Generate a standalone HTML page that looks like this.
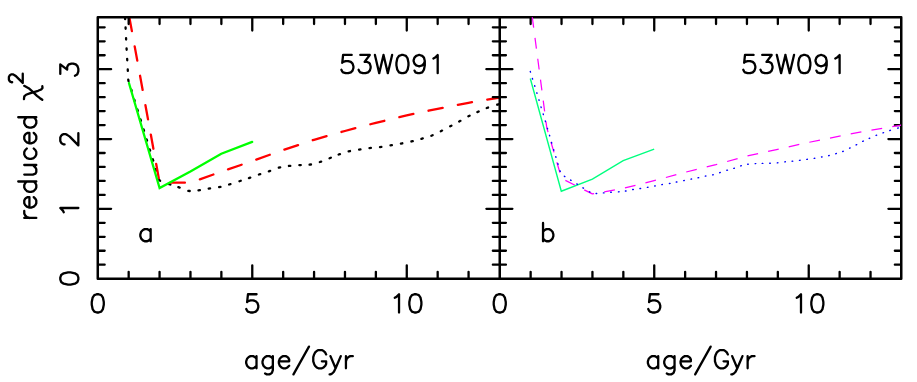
<!DOCTYPE html>
<html><head><meta charset="utf-8"><title>chart</title><style>html,body{margin:0;padding:0;background:#fff;font-family:"Liberation Sans",sans-serif;}svg{display:block}</style></head><body>
<svg width="917" height="382" viewBox="0 0 917 382"><defs><clipPath id="ca"><rect x="97.77" y="17.20" width="401.97" height="261.48"/></clipPath><clipPath id="cb"><rect x="499.74" y="17.20" width="401.51" height="261.48"/></clipPath></defs>
<g fill="none" stroke="#000" stroke-linecap="round" stroke-linejoin="round">
<g clip-path="url(#ca)">
<path d="M125.06,17.70 L125.14,19.10 M125.57,27.40 L125.63,28.80 M126.07,38.10 L126.13,39.50 M126.56,48.40 L126.64,49.80 M127.16,58.90 L127.24,60.30 M127.76,69.50 L127.84,70.90 M128.27,79.71 L128.53,81.09 M131.29,89.63 L131.71,90.97 M134.29,99.63 L134.71,100.97 M137.39,109.53 L137.81,110.87 M140.49,119.43 L140.91,120.77 M143.59,129.43 L144.01,130.77 M146.59,139.33 L147.01,140.67 M149.69,149.33 L150.11,150.67 M152.79,159.23 L153.21,160.57 M155.78,169.13 L156.22,170.47 M159.12,179.79 L160.08,180.81 M169.04,184.06 L170.36,184.54 M178.34,187.17 L179.66,187.63 M188.31,190.80 L189.69,191.00 M198.50,190.28 L199.90,190.12 M208.71,188.61 L210.09,188.39 M219.11,187.14 L220.49,186.86 M229.13,184.50 L230.47,184.10 M239.43,181.22 L240.77,180.78 M248.94,178.13 L250.26,177.67 M258.94,174.53 L260.26,174.07 M268.84,171.33 L270.16,170.87 M278.82,167.68 L280.18,167.32 M288.90,165.98 L290.30,165.82 M299.40,165.14 L300.80,165.06 M309.61,164.71 L310.99,164.49 M319.84,162.02 L321.16,161.58 M329.55,158.26 L330.85,157.74 M338.64,154.53 L339.96,154.07 M348.62,151.36 L349.98,151.04 M359.11,149.61 L360.49,149.39 M369.50,148.08 L370.90,147.92 M380.01,147.09 L381.39,146.91 M390.51,145.42 L391.89,145.18 M400.91,143.53 L402.29,143.27 M411.42,141.46 L412.78,141.14 M421.43,138.80 L422.77,138.40 M431.35,135.76 L432.65,135.24 M440.78,131.22 L442.02,130.58 M450.18,126.33 L451.42,125.67 M459.19,121.54 L460.41,120.86 M468.38,116.32 L469.62,115.68 M477.36,112.08 L478.64,111.52 M486.74,108.04 L488.06,107.56 M497.23,104.71 L498.57,104.29" stroke="#000" stroke-width="2.30"/>
<polyline points="129.30,17.00 159.60,182.60 190.40,182.70 221.30,171.70 252.20,161.10 283.10,150.00 314.00,139.80 344.90,131.00 375.80,122.80 406.70,115.40 437.60,108.80 468.50,102.80 499.60,97.60" stroke="#f00" stroke-width="2.3" stroke-dasharray="14.4 15.48"/>
<polyline points="128.95,83.00 159.60,188.00 190.40,171.40 221.30,153.70 252.20,141.90" stroke="#0f0" stroke-width="2.3" stroke-linejoin="miter" stroke-linecap="round"/>
</g>
<path d="M97.77,17.20 H901.25 V278.68 H97.77 Z M499.74,17.20 V278.68" stroke-width="2.50" stroke-linejoin="round"/>
<path d="M128.67,17.60 v6.50 M128.67,278.28 v-6.50 M159.57,17.60 v6.50 M159.57,278.28 v-6.50 M190.47,17.60 v6.50 M190.47,278.28 v-6.50 M221.37,17.60 v6.50 M221.37,278.28 v-6.50 M252.27,17.60 v12.95 M252.27,278.28 v-12.95 M283.17,17.60 v6.50 M283.17,278.28 v-6.50 M314.07,17.60 v6.50 M314.07,278.28 v-6.50 M344.97,17.60 v6.50 M344.97,278.28 v-6.50 M375.87,17.60 v6.50 M375.87,278.28 v-6.50 M406.77,17.60 v12.95 M406.77,278.28 v-12.95 M437.67,17.60 v6.50 M437.67,278.28 v-6.50 M468.57,17.60 v6.50 M468.57,278.28 v-6.50 M530.64,17.60 v6.50 M530.64,278.28 v-6.50 M561.54,17.60 v6.50 M561.54,278.28 v-6.50 M592.44,17.60 v6.50 M592.44,278.28 v-6.50 M623.34,17.60 v6.50 M623.34,278.28 v-6.50 M654.24,17.60 v12.95 M654.24,278.28 v-12.95 M685.14,17.60 v6.50 M685.14,278.28 v-6.50 M716.04,17.60 v6.50 M716.04,278.28 v-6.50 M746.94,17.60 v6.50 M746.94,278.28 v-6.50 M777.84,17.60 v6.50 M777.84,278.28 v-6.50 M808.74,17.60 v12.95 M808.74,278.28 v-12.95 M839.64,17.60 v6.50 M839.64,278.28 v-6.50 M870.54,17.60 v6.50 M870.54,278.28 v-6.50 M98.17,264.72 h6.50 M492.84,264.72 h13.10 M900.85,264.72 h-6.00 M98.17,250.75 h6.50 M492.84,250.75 h13.10 M900.85,250.75 h-6.00 M98.17,236.79 h6.50 M492.84,236.79 h13.10 M900.85,236.79 h-6.00 M98.17,222.82 h6.50 M492.84,222.82 h13.10 M900.85,222.82 h-6.00 M98.17,208.86 h12.95 M486.39,208.86 h26.00 M900.85,208.86 h-12.45 M98.17,194.90 h6.50 M492.84,194.90 h13.10 M900.85,194.90 h-6.00 M98.17,180.93 h6.50 M492.84,180.93 h13.10 M900.85,180.93 h-6.00 M98.17,166.97 h6.50 M492.84,166.97 h13.10 M900.85,166.97 h-6.00 M98.17,153.00 h6.50 M492.84,153.00 h13.10 M900.85,153.00 h-6.00 M98.17,139.04 h12.95 M486.39,139.04 h26.00 M900.85,139.04 h-12.45 M98.17,125.08 h6.50 M492.84,125.08 h13.10 M900.85,125.08 h-6.00 M98.17,111.11 h6.50 M492.84,111.11 h13.10 M900.85,111.11 h-6.00 M98.17,97.15 h6.50 M492.84,97.15 h13.10 M900.85,97.15 h-6.00 M98.17,83.18 h6.50 M492.84,83.18 h13.10 M900.85,83.18 h-6.00 M98.17,69.22 h12.95 M486.39,69.22 h26.00 M900.85,69.22 h-12.45 M98.17,55.26 h6.50 M492.84,55.26 h13.10 M900.85,55.26 h-6.00 M98.17,41.29 h6.50 M492.84,41.29 h13.10 M900.85,41.29 h-6.00 M98.17,27.33 h6.50 M492.84,27.33 h13.10 M900.85,27.33 h-6.00" stroke-width="2.3"/>
<g clip-path="url(#cb)">
<polyline points="532.25,16.90 546.80,127.90 561.60,178.50 592.30,193.90 623.20,188.40 654.10,180.70 685.00,172.30 715.90,164.60 746.80,156.10 777.70,149.30 808.60,142.40 839.50,136.10 870.40,130.20 901.20,125.20" stroke="#f0f" stroke-width="1.25" stroke-linecap="butt" stroke-dasharray="10.85 10.26"/>
<polyline points="530.30,78.50 561.30,191.20 592.40,179.20 623.20,160.70 654.20,149.20" stroke="#00ff7f" stroke-width="1.4" stroke-linejoin="miter" stroke-linecap="butt"/>
<path d="M530.31,71.51 L530.49,72.09 M532.41,78.51 L532.59,79.09 M534.71,85.71 L534.89,86.29 M536.81,92.81 L536.99,93.39 M538.91,99.81 L539.09,100.39 M541.01,106.91 L541.19,107.49 M543.21,114.01 L543.39,114.59 M545.32,121.01 L545.48,121.59 M547.42,128.31 L547.58,128.89 M549.52,135.31 L549.68,135.89 M551.57,142.51 L551.73,143.09 M553.71,149.61 L553.89,150.19 M555.81,156.71 L555.99,157.29 M557.91,163.71 L558.09,164.29 M559.96,170.84 L560.24,171.36 M564.37,176.21 L564.83,176.59 M570.54,180.04 L571.06,180.36 M576.85,183.94 L577.35,184.26 M582.94,187.84 L583.46,188.16 M589.42,191.78 L589.98,192.02 M596.10,193.48 L596.70,193.52 M603.40,192.92 L604.00,192.88 M610.70,192.32 L611.30,192.28 M618.45,191.88 L619.05,191.82 M625.45,191.05 L626.05,190.95 M632.70,189.55 L633.30,189.45 M640.00,188.54 L640.60,188.46 M647.40,187.35 L648.00,187.25 M654.71,185.96 L655.29,185.84 M661.80,184.65 L662.40,184.55 M669.40,183.45 L670.00,183.35 M676.31,182.06 L676.89,181.94 M683.71,180.66 L684.29,180.54 M691.01,179.16 L691.59,179.04 M698.11,177.76 L698.69,177.64 M705.31,176.16 L705.89,176.04 M712.61,174.87 L713.19,174.73 M719.71,172.69 L720.29,172.51 M726.91,170.29 L727.49,170.11 M733.81,168.39 L734.39,168.21 M740.71,165.93 L741.29,165.77 M747.70,164.25 L748.30,164.15 M755.20,163.62 L755.80,163.58 M762.20,163.41 L762.80,163.39 M769.70,163.21 L770.30,163.19 M777.30,162.83 L777.90,162.77 M784.80,161.83 L785.40,161.77 M792.10,161.23 L792.70,161.17 M799.50,160.34 L800.10,160.26 M806.80,159.34 L807.40,159.26 M814.20,158.35 L814.80,158.25 M821.51,156.96 L822.09,156.84 M828.61,155.67 L829.19,155.53 M835.81,153.69 L836.39,153.51 M842.72,151.51 L843.28,151.29 M849.63,148.23 L850.17,147.97 M856.13,144.94 L856.67,144.66 M862.73,141.33 L863.27,141.07 M869.23,138.42 L869.77,138.18 M876.12,135.41 L876.68,135.19 M883.02,132.90 L883.58,132.70 M889.81,130.49 L890.39,130.31 M897.71,128.18 L898.29,128.02" stroke="#00f" stroke-width="1.40"/>
</g>
<path d="M96.91,294.27 L94.33,295.14 L92.61,297.74 L91.75,302.08 L91.75,304.69 L92.61,309.03 L94.33,311.63 L96.91,312.50 L98.63,312.50 L101.21,311.63 L102.93,309.03 L103.79,304.69 L103.79,302.08 L102.93,297.74 L101.21,295.14 L98.63,294.27 L96.91,294.27" stroke-width="2.30"/>
<path d="M256.57,294.27 L247.97,294.27 L247.11,302.08 L247.97,301.22 L250.55,300.35 L253.13,300.35 L255.71,301.22 L257.43,302.95 L258.29,305.56 L258.29,307.29 L257.43,309.90 L255.71,311.63 L253.13,312.50 L250.55,312.50 L247.97,311.63 L247.11,310.76 L246.25,309.03" stroke-width="2.30"/>
<path d="M394.73,297.74 L396.45,296.88 L399.03,294.27 L399.03,312.50 M414.51,294.27 L411.93,295.14 L410.21,297.74 L409.35,302.08 L409.35,304.69 L410.21,309.03 L411.93,311.63 L414.51,312.50 L416.23,312.50 L418.81,311.63 L420.53,309.03 L421.39,304.69 L421.39,302.08 L420.53,297.74 L418.81,295.14 L416.23,294.27 L414.51,294.27" stroke-width="2.30"/>
<path d="M498.88,294.27 L496.30,295.14 L494.58,297.74 L493.72,302.08 L493.72,304.69 L494.58,309.03 L496.30,311.63 L498.88,312.50 L500.60,312.50 L503.18,311.63 L504.90,309.03 L505.76,304.69 L505.76,302.08 L504.90,297.74 L503.18,295.14 L500.60,294.27 L498.88,294.27" stroke-width="2.30"/>
<path d="M658.54,294.27 L649.94,294.27 L649.08,302.08 L649.94,301.22 L652.52,300.35 L655.10,300.35 L657.68,301.22 L659.40,302.95 L660.26,305.56 L660.26,307.29 L659.40,309.90 L657.68,311.63 L655.10,312.50 L652.52,312.50 L649.94,311.63 L649.08,310.76 L648.22,309.03" stroke-width="2.30"/>
<path d="M796.70,297.74 L798.42,296.88 L801.00,294.27 L801.00,312.50 M816.48,294.27 L813.90,295.14 L812.18,297.74 L811.32,302.08 L811.32,304.69 L812.18,309.03 L813.90,311.63 L816.48,312.50 L818.20,312.50 L820.78,311.63 L822.50,309.03 L823.36,304.69 L823.36,302.08 L822.50,297.74 L820.78,295.14 L818.20,294.27 L816.48,294.27" stroke-width="2.30"/>
<path d="M256.50,356.15 L256.50,368.30 M256.50,358.75 L254.78,357.02 L253.06,356.15 L250.48,356.15 L248.76,357.02 L247.04,358.75 L246.18,361.36 L246.18,363.09 L247.04,365.70 L248.76,367.43 L250.48,368.30 L253.06,368.30 L254.78,367.43 L256.50,365.70 M272.84,356.15 L272.84,370.04 L271.98,372.64 L271.12,373.51 L269.40,374.38 L266.82,374.38 L265.10,373.51 M272.84,358.75 L271.12,357.02 L269.40,356.15 L266.82,356.15 L265.10,357.02 L263.38,358.75 L262.52,361.36 L262.52,363.09 L263.38,365.70 L265.10,367.43 L266.82,368.30 L269.40,368.30 L271.12,367.43 L272.84,365.70 M278.86,361.36 L289.18,361.36 L289.18,359.62 L288.32,357.88 L287.46,357.02 L285.74,356.15 L283.16,356.15 L281.44,357.02 L279.72,358.75 L278.86,361.36 L278.86,363.09 L279.72,365.70 L281.44,367.43 L283.16,368.30 L285.74,368.30 L287.46,367.43 L289.18,365.70 M308.96,346.60 L293.48,374.38 M326.16,354.41 L325.30,352.68 L323.58,350.94 L321.86,350.07 L318.42,350.07 L316.70,350.94 L314.98,352.68 L314.12,354.41 L313.26,357.02 L313.26,361.36 L314.12,363.96 L314.98,365.70 L316.70,367.43 L318.42,368.30 L321.86,368.30 L323.58,367.43 L325.30,365.70 L326.16,363.96 L326.16,361.36 M321.86,361.36 L326.16,361.36 M330.46,356.15 L335.62,368.30 M340.78,356.15 L335.62,368.30 L333.90,371.77 L332.18,373.51 L330.46,374.38 L329.60,374.38 M345.94,356.15 L345.94,368.30 M345.94,361.36 L346.80,358.75 L348.52,357.02 L350.24,356.15 L352.82,356.15" stroke-width="2.30"/>
<path d="M658.20,356.15 L658.20,368.30 M658.20,358.75 L656.48,357.02 L654.76,356.15 L652.18,356.15 L650.46,357.02 L648.74,358.75 L647.88,361.36 L647.88,363.09 L648.74,365.70 L650.46,367.43 L652.18,368.30 L654.76,368.30 L656.48,367.43 L658.20,365.70 M674.54,356.15 L674.54,370.04 L673.68,372.64 L672.82,373.51 L671.10,374.38 L668.52,374.38 L666.80,373.51 M674.54,358.75 L672.82,357.02 L671.10,356.15 L668.52,356.15 L666.80,357.02 L665.08,358.75 L664.22,361.36 L664.22,363.09 L665.08,365.70 L666.80,367.43 L668.52,368.30 L671.10,368.30 L672.82,367.43 L674.54,365.70 M680.56,361.36 L690.88,361.36 L690.88,359.62 L690.02,357.88 L689.16,357.02 L687.44,356.15 L684.86,356.15 L683.14,357.02 L681.42,358.75 L680.56,361.36 L680.56,363.09 L681.42,365.70 L683.14,367.43 L684.86,368.30 L687.44,368.30 L689.16,367.43 L690.88,365.70 M710.66,346.60 L695.18,374.38 M727.86,354.41 L727.00,352.68 L725.28,350.94 L723.56,350.07 L720.12,350.07 L718.40,350.94 L716.68,352.68 L715.82,354.41 L714.96,357.02 L714.96,361.36 L715.82,363.96 L716.68,365.70 L718.40,367.43 L720.12,368.30 L723.56,368.30 L725.28,367.43 L727.00,365.70 L727.86,363.96 L727.86,361.36 M723.56,361.36 L727.86,361.36 M732.16,356.15 L737.32,368.30 M742.48,356.15 L737.32,368.30 L735.60,371.77 L733.88,373.51 L732.16,374.38 L731.30,374.38 M747.64,356.15 L747.64,368.30 M747.64,361.36 L748.50,358.75 L750.22,357.02 L751.94,356.15 L754.52,356.15" stroke-width="2.30"/>
<path d="M351.70,54.97 L343.10,54.97 L342.24,62.78 L343.10,61.92 L345.68,61.05 L348.26,61.05 L350.84,61.92 L352.56,63.65 L353.42,66.26 L353.42,67.99 L352.56,70.60 L350.84,72.33 L348.26,73.20 L345.68,73.20 L343.10,72.33 L342.24,71.46 L341.38,69.73 M360.30,54.97 L369.76,54.97 L364.60,61.92 L367.18,61.92 L368.90,62.78 L369.76,63.65 L370.62,66.26 L370.62,67.99 L369.76,70.60 L368.04,72.33 L365.46,73.20 L362.88,73.20 L360.30,72.33 L359.44,71.46 L358.58,69.73 M374.92,54.97 L379.22,73.20 M383.52,54.97 L379.22,73.20 M383.52,54.97 L387.82,73.20 M392.12,54.97 L387.82,73.20 M401.58,54.97 L399.00,55.84 L397.28,58.44 L396.42,62.78 L396.42,65.39 L397.28,69.73 L399.00,72.33 L401.58,73.20 L403.30,73.20 L405.88,72.33 L407.60,69.73 L408.46,65.39 L408.46,62.78 L407.60,58.44 L405.88,55.84 L403.30,54.97 L401.58,54.97 M424.80,61.05 L423.94,63.65 L422.22,65.39 L419.64,66.26 L418.78,66.26 L416.20,65.39 L414.48,63.65 L413.62,61.05 L413.62,60.18 L414.48,57.58 L416.20,55.84 L418.78,54.97 L419.64,54.97 L422.22,55.84 L423.94,57.58 L424.80,61.05 L424.80,65.39 L423.94,69.73 L422.22,72.33 L419.64,73.20 L417.92,73.20 L415.34,72.33 L414.48,70.60 M433.40,58.44 L435.12,57.58 L437.70,54.97 L437.70,73.20" stroke-width="2.30"/>
<path d="M753.60,54.97 L745.00,54.97 L744.14,62.78 L745.00,61.92 L747.58,61.05 L750.16,61.05 L752.74,61.92 L754.46,63.65 L755.32,66.26 L755.32,67.99 L754.46,70.60 L752.74,72.33 L750.16,73.20 L747.58,73.20 L745.00,72.33 L744.14,71.46 L743.28,69.73 M762.20,54.97 L771.66,54.97 L766.50,61.92 L769.08,61.92 L770.80,62.78 L771.66,63.65 L772.52,66.26 L772.52,67.99 L771.66,70.60 L769.94,72.33 L767.36,73.20 L764.78,73.20 L762.20,72.33 L761.34,71.46 L760.48,69.73 M776.82,54.97 L781.12,73.20 M785.42,54.97 L781.12,73.20 M785.42,54.97 L789.72,73.20 M794.02,54.97 L789.72,73.20 M803.48,54.97 L800.90,55.84 L799.18,58.44 L798.32,62.78 L798.32,65.39 L799.18,69.73 L800.90,72.33 L803.48,73.20 L805.20,73.20 L807.78,72.33 L809.50,69.73 L810.36,65.39 L810.36,62.78 L809.50,58.44 L807.78,55.84 L805.20,54.97 L803.48,54.97 M826.70,61.05 L825.84,63.65 L824.12,65.39 L821.54,66.26 L820.68,66.26 L818.10,65.39 L816.38,63.65 L815.52,61.05 L815.52,60.18 L816.38,57.58 L818.10,55.84 L820.68,54.97 L821.54,54.97 L824.12,55.84 L825.84,57.58 L826.70,61.05 L826.70,65.39 L825.84,69.73 L824.12,72.33 L821.54,73.20 L819.82,73.20 L817.24,72.33 L816.38,70.60 M835.30,58.44 L837.02,57.58 L839.60,54.97 L839.60,73.20" stroke-width="2.30"/>
<path d="M150.65,229.10 L150.65,241.25 M150.65,231.70 L148.93,229.97 L147.21,229.10 L144.63,229.10 L142.91,229.97 L141.19,231.70 L140.33,234.31 L140.33,236.04 L141.19,238.65 L142.91,240.38 L144.63,241.25 L147.21,241.25 L148.93,240.38 L150.65,238.65" stroke-width="2.30"/>
<path d="M543.04,223.02 L543.04,241.25 M543.04,231.70 L544.76,229.97 L546.48,229.10 L549.06,229.10 L550.78,229.97 L552.50,231.70 L553.36,234.31 L553.36,236.04 L552.50,238.65 L550.78,240.38 L549.06,241.25 L546.48,241.25 L544.76,240.38 L543.04,238.65" stroke-width="2.30"/>
<path d="M60.29,279.35 L61.15,281.95 L63.73,283.69 L68.03,284.56 L70.61,284.56 L74.91,283.69 L77.49,281.95 L78.35,279.35 L78.35,277.61 L77.49,275.01 L74.91,273.27 L70.61,272.40 L68.03,272.40 L63.73,273.27 L61.15,275.01 L60.29,277.61 L60.29,279.35" stroke-width="2.30"/>
<path d="M63.73,212.33 L62.87,210.60 L60.29,207.99 L78.35,207.99" stroke-width="2.30"/>
<path d="M64.59,144.45 L63.73,144.45 L62.01,143.58 L61.15,142.71 L60.29,140.98 L60.29,137.50 L61.15,135.77 L62.01,134.90 L63.73,134.03 L65.45,134.03 L67.17,134.90 L69.75,136.64 L78.35,145.32 L78.35,133.16" stroke-width="2.30"/>
<path d="M60.29,73.96 L60.29,64.41 L67.17,69.62 L67.17,67.02 L68.03,65.28 L68.89,64.41 L71.47,63.54 L73.19,63.54 L75.77,64.41 L77.49,66.15 L78.35,68.75 L78.35,71.36 L77.49,73.96 L76.63,74.83 L74.91,75.70" stroke-width="2.30"/>
<path d="M24.26,217.96 L36.30,217.96 M29.42,217.96 L26.84,217.09 L25.12,215.35 L24.26,213.62 L24.26,211.01 M29.42,207.54 L29.42,197.12 L27.70,197.12 L25.98,197.99 L25.12,198.86 L24.26,200.60 L24.26,203.20 L25.12,204.94 L26.84,206.67 L29.42,207.54 L31.14,207.54 L33.72,206.67 L35.44,204.94 L36.30,203.20 L36.30,200.60 L35.44,198.86 L33.72,197.12 M18.24,181.50 L36.30,181.50 M26.84,181.50 L25.12,183.24 L24.26,184.97 L24.26,187.58 L25.12,189.31 L26.84,191.05 L29.42,191.92 L31.14,191.92 L33.72,191.05 L35.44,189.31 L36.30,187.58 L36.30,184.97 L35.44,183.24 L33.72,181.50 M24.26,174.56 L32.86,174.56 L35.44,173.69 L36.30,171.95 L36.30,169.35 L35.44,167.61 L32.86,165.01 M24.26,165.01 L36.30,165.01 M26.84,148.52 L25.12,150.25 L24.26,151.99 L24.26,154.59 L25.12,156.33 L26.84,158.06 L29.42,158.93 L31.14,158.93 L33.72,158.06 L35.44,156.33 L36.30,154.59 L36.30,151.99 L35.44,150.25 L33.72,148.52 M29.42,143.31 L29.42,132.89 L27.70,132.89 L25.98,133.76 L25.12,134.63 L24.26,136.36 L24.26,138.97 L25.12,140.70 L26.84,142.44 L29.42,143.31 L31.14,143.31 L33.72,142.44 L35.44,140.70 L36.30,138.97 L36.30,136.36 L35.44,134.63 L33.72,132.89 M18.24,117.27 L36.30,117.27 M26.84,117.27 L25.12,119.00 L24.26,120.74 L24.26,123.34 L25.12,125.08 L26.84,126.82 L29.42,127.68 L31.14,127.68 L33.72,126.82 L35.44,125.08 L36.30,123.34 L36.30,120.74 L35.44,119.00 L33.72,117.27" stroke-width="2.30"/>
<path d="M24.2,85.85 L28.65,88.2 L32.85,91.9 L37.0,95.8 L39.65,97.95 L42.3,99.8 M42.3,86.1 L42.5,87.9 L41.2,89.5 L38.1,90.8 L33.9,92.1 L29.7,93.45 L26.05,94.75 L24.3,96.4 L23.95,99.2" stroke-width="2.30"/>
<path d="M12.19,82.26 L11.53,82.26 L10.21,81.60 L9.55,80.94 L8.89,79.62 L8.89,76.98 L9.55,75.66 L10.21,75.00 L11.53,74.34 L12.85,74.34 L14.17,75.00 L16.15,76.32 L22.75,82.92 L22.75,73.68" stroke-width="2.30"/>
</g>
</svg>
</body></html>
